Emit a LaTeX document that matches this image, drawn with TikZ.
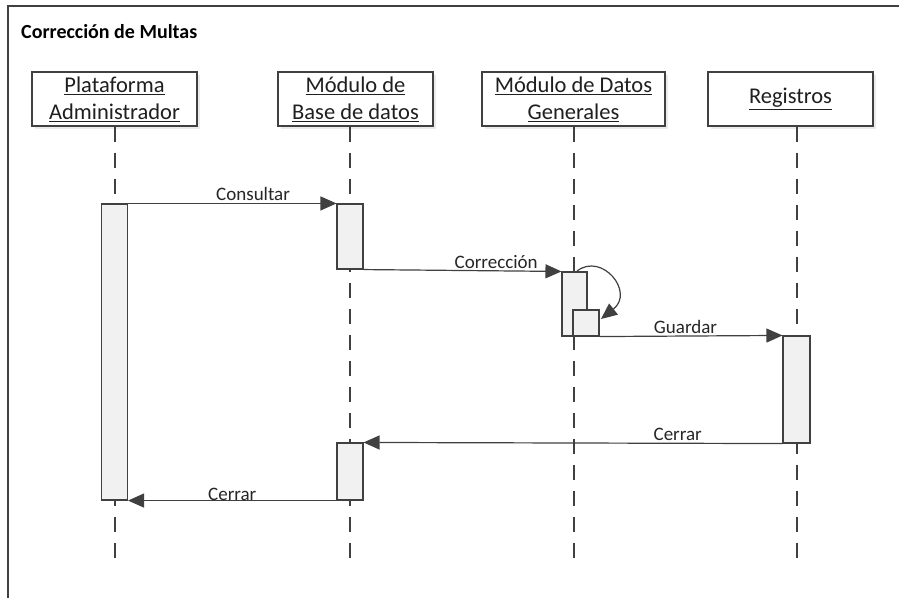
\documentclass[tikz,border=0pt]{standalone}
\usepackage{fontspec}
\setmainfont{Carlito}
\usetikzlibrary{arrows.meta}
\definecolor{ln}{HTML}{404040}
\definecolor{actfill}{HTML}{F1F1F1}
\begin{document}
\begin{tikzpicture}[x=1pt,y=-1pt,
  hdr/.style={draw=ln, line width=1.1pt, fill=white, inner sep=0pt, align=center,
    font=\fontsize{22.5}{27}\selectfont, text=black!88},
  act/.style={draw=ln, line width=1.1pt, fill=actfill, inner sep=0pt},
  life/.style={draw=ln, line width=1.4pt, dash pattern=on 15pt off 11pt},
  msg/.style={draw=ln, line width=1.2pt, -{Triangle[length=16pt,width=14pt]}},
  lbl/.style={font=\fontsize{19}{22}\selectfont, text=black!85, inner sep=2pt},
  title/.style={font=\bfseries\fontsize{20}{24}\selectfont, anchor=west, inner sep=0pt}
]
\useasboundingbox (0,0) rectangle (899,597);
\fill[white] (0,0) rectangle (899,597);
% frame
\draw[ln, line width=1.2pt] (8,600) -- (8,6) -- (902,6);
\node[title] (t) at (21,32) {Corrección de Multas};

% header shadows
\foreach \cx/\w in {114.5/165, 355.5/155, 573.5/183, 790.5/165}{
  \fill[black!8] (\cx-\w/2+3,75) rectangle (\cx+\w/2+3,129);
}
% headers
\node[hdr, minimum width=165pt, minimum height=54pt] (h1) at (114.5,99)
  {\underline{Plataforma}\\\underline{Administrador}};
\node[hdr, minimum width=155pt, minimum height=54pt] (h2) at (355.5,99)
  {\underline{Módulo de}\\\underline{Base de datos}};
\node[hdr, minimum width=183pt, minimum height=54pt] (h3) at (573.5,99)
  {\underline{Módulo de Datos}\\\underline{Generales}};
\node[hdr, minimum width=165pt, minimum height=54pt] (h4) at (790.5,99)
  {\underline{Registros}};

% lifelines
\coordinate (e1) at (115,560);
\coordinate (e2) at (350,560);
\coordinate (e3) at (574,560);
\coordinate (e4) at (797,560);
\draw[life] (e1 |- h1.south) -- (e1);
\draw[life] (e2 |- h2.south) -- (e2);
\draw[life] (e3 |- h3.south) -- (e3);
\draw[life] (e4 |- h4.south) -- (e4);

% activations
\node[act, minimum width=26pt, minimum height=296pt] (a1) at (114.5,352) {};
\node[act, minimum width=26pt, minimum height=65pt] (a2) at (350,236.5) {};
\node[act, minimum width=25pt, minimum height=64pt] (a3) at (574.5,304) {};
\node[act, minimum width=26pt, minimum height=26pt] (a3b) at (586,323) {};
\node[act, minimum width=27pt, minimum height=107pt] (a4) at (796.5,389.5) {};
\node[act, minimum width=26pt, minimum height=57pt] (a5) at (350,471.5) {};

% messages
\draw[msg] (a1.north east) -- node[lbl, above, pos=0.6] {Consultar} (a2.north west);
\draw[msg] (a2.south east) -- node[lbl, above, pos=0.67] {Corrección} (a3.north west);
\coordinate (s1) at (577,271);
\coordinate (s2) at (601,319);
\draw[msg] (s1) .. controls (602,252) and (635,292) .. (s2);
\draw[msg] (a3b.south east) -- node[lbl, above, pos=0.47] {Guardar} (a4.north west);
\draw[msg] (a4.south west) -- node[lbl, above, pos=0.25] {Cerrar} (a5.north east);
\draw[msg] (a5.south west) -- node[lbl, above, pos=0.5, yshift=-3pt] {Cerrar} (a1.south east);
\end{tikzpicture}
\end{document}
